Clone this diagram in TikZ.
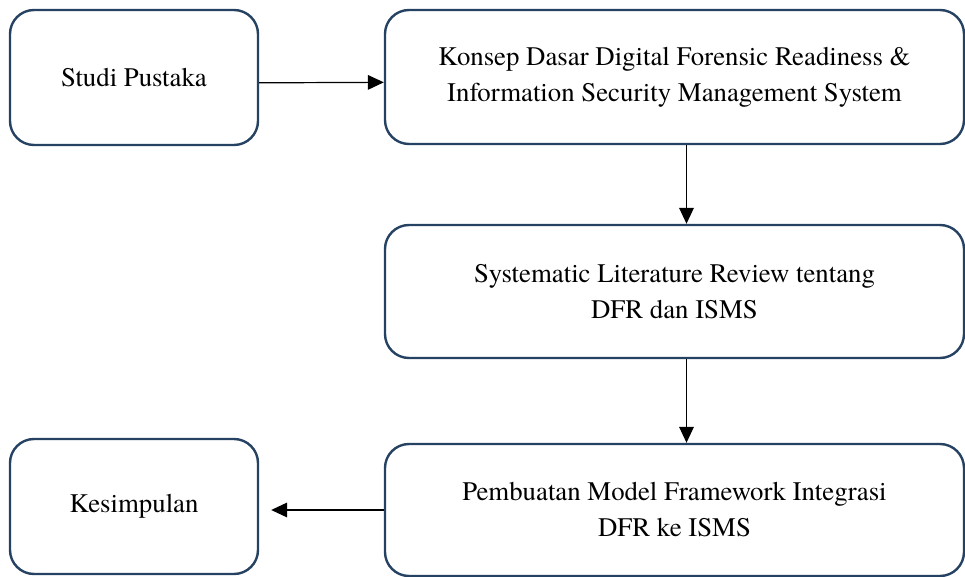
\documentclass[tikz,border=0pt]{standalone}
\usepackage{fontspec}
\setmainfont{texgyretermes-regular.otf}
\usetikzlibrary{arrows.meta}
\definecolor{boxedge}{RGB}{38,66,98}
\begin{document}
\begin{tikzpicture}[x=0.75pt,y=-0.75pt,
  stage/.style={draw=boxedge, line width=1.8pt, rounded corners=18pt,
    fill=white, align=center, inner sep=0pt,
    font=\fontsize{20.1}{27}\selectfont},
  flow/.style={line width=0.9pt, -{Triangle[length=12pt,width=11pt]}}]
\useasboundingbox (0,0) rectangle (965,577);

% research stages
\node[stage, minimum width=186pt, minimum height=101.25pt] (studi) at (134,77.5) {Studi Pustaka};
\node[stage, minimum width=434.25pt, minimum height=100.5pt] (konsep) at (674.5,77)
  {Konsep Dasar Digital Forensic Readiness \&\\Information Security Management System};
\node[stage, minimum width=434.25pt, minimum height=99.75pt] (slr) at (674.5,291.5)
  {Systematic Literature Review tentang\\DFR dan ISMS};
\node[stage, minimum width=434.25pt, minimum height=99pt] (pemb) at (674.5,510)
  {Pembuatan Model Framework Integrasi\\DFR ke ISMS};
\node[stage, minimum width=186pt, minimum height=101.25pt] (kes) at (134,506.5) {Kesimpulan};

% flow between stages
\draw[flow] ([yshift=-4pt]studi.east) -- ([yshift=-4pt]konsep.west);
\draw[flow] ([xshift=9pt]konsep.south) -- ([xshift=9pt]slr.north);
\draw[flow] ([xshift=9pt]slr.south) -- ([xshift=9pt]pemb.north);
\coordinate (kesin) at ([xshift=9pt]kes.east |- pemb.west);
\draw[flow] (pemb.west) -- (kesin);
\end{tikzpicture}
\end{document}
